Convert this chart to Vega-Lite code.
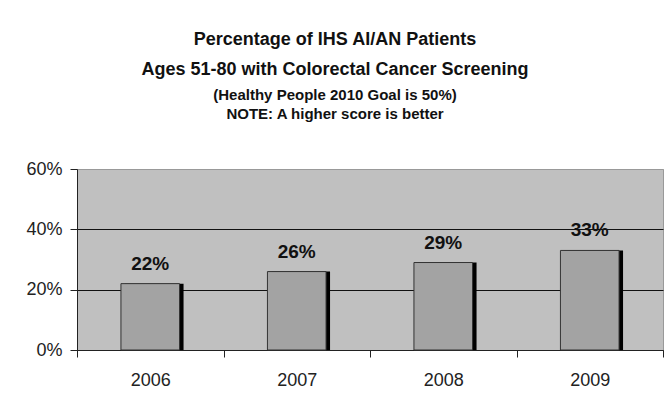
{
  "$schema": "https://vega.github.io/schema/vega-lite/v6.json",
  "autosize": "none",
  "width": 586,
  "height": 181,
  "padding": {"left": 77, "top": 169, "right": 7, "bottom": 61},
  "background": "white",
  "title": {
    "text": ["Percentage of IHS AI/AN Patients", "Ages 51-80 with Colorectal Cancer Screening"],
    "subtitle": ["(Healthy People 2010 Goal is 50%)", "NOTE:  A higher score is better"],
    "anchor": "middle",
    "frame": "group",
    "dx": -35,
    "offset": 38,
    "font": "Liberation Sans",
    "fontSize": 18,
    "fontWeight": "bold",
    "lineHeight": 30,
    "color": "#111",
    "subtitleFont": "Liberation Sans",
    "subtitleFontSize": 15,
    "subtitleFontWeight": "bold",
    "subtitleLineHeight": 19,
    "subtitleColor": "#111",
    "subtitlePadding": 9
  },
  "data": {
    "values": [
      {"year": "2006", "pct": 0.22},
      {"year": "2007", "pct": 0.26},
      {"year": "2008", "pct": 0.29},
      {"year": "2009", "pct": 0.33}
    ]
  },
  "encoding": {
    "x": {
      "field": "year",
      "type": "nominal",
      "scale": {"paddingInner": 0, "paddingOuter": 0},
      "axis": {
        "title": null,
        "labelAngle": 0,
        "labelFont": "Liberation Sans",
        "labelFontSize": 18,
        "labelColor": "#222",
        "labelPadding": 14,
        "tickBand": "extent",
        "tickSize": 7,
        "tickColor": "#222",
        "domainColor": "#222",
        "grid": false
      }
    },
    "y": {
      "field": "pct",
      "type": "quantitative",
      "scale": {"domain": [0, 0.6], "nice": false},
      "axis": {
        "title": null,
        "values": [0, 0.2, 0.4, 0.6],
        "format": ".0%",
        "labelFont": "Liberation Sans",
        "labelFontSize": 18,
        "labelColor": "#222",
        "labelPadding": 8,
        "tickSize": 7,
        "tickColor": "#222",
        "domainColor": "#222",
        "grid": true,
        "gridColor": {"condition": {"test": "datum.value >= 0.6", "value": "#999999"}, "value": "#111111"},
        "gridWidth": 1.2
      }
    }
  },
  "layer": [
    {
      "mark": {"type": "bar", "width": {"band": 0.4}, "color": "#000000", "xOffset": 4},
      "encoding": {"y2": {"datum": 0}}
    },
    {
      "mark": {"type": "bar", "width": {"band": 0.4}, "fill": "#a3a3a3", "stroke": "#333333", "strokeWidth": 1},
      "encoding": {}
    },
    {
      "mark": {"type": "text", "dy": -20, "font": "Liberation Sans", "fontSize": 19, "fontWeight": "bold", "color": "#111"},
      "encoding": {
        "text": {"field": "pct", "type": "quantitative", "format": ".0%"}
      }
    }
  ],
  "config": {
    "view": {"fill": "#c0c0c0", "stroke": "#999999", "strokeWidth": 1}
  }
}
